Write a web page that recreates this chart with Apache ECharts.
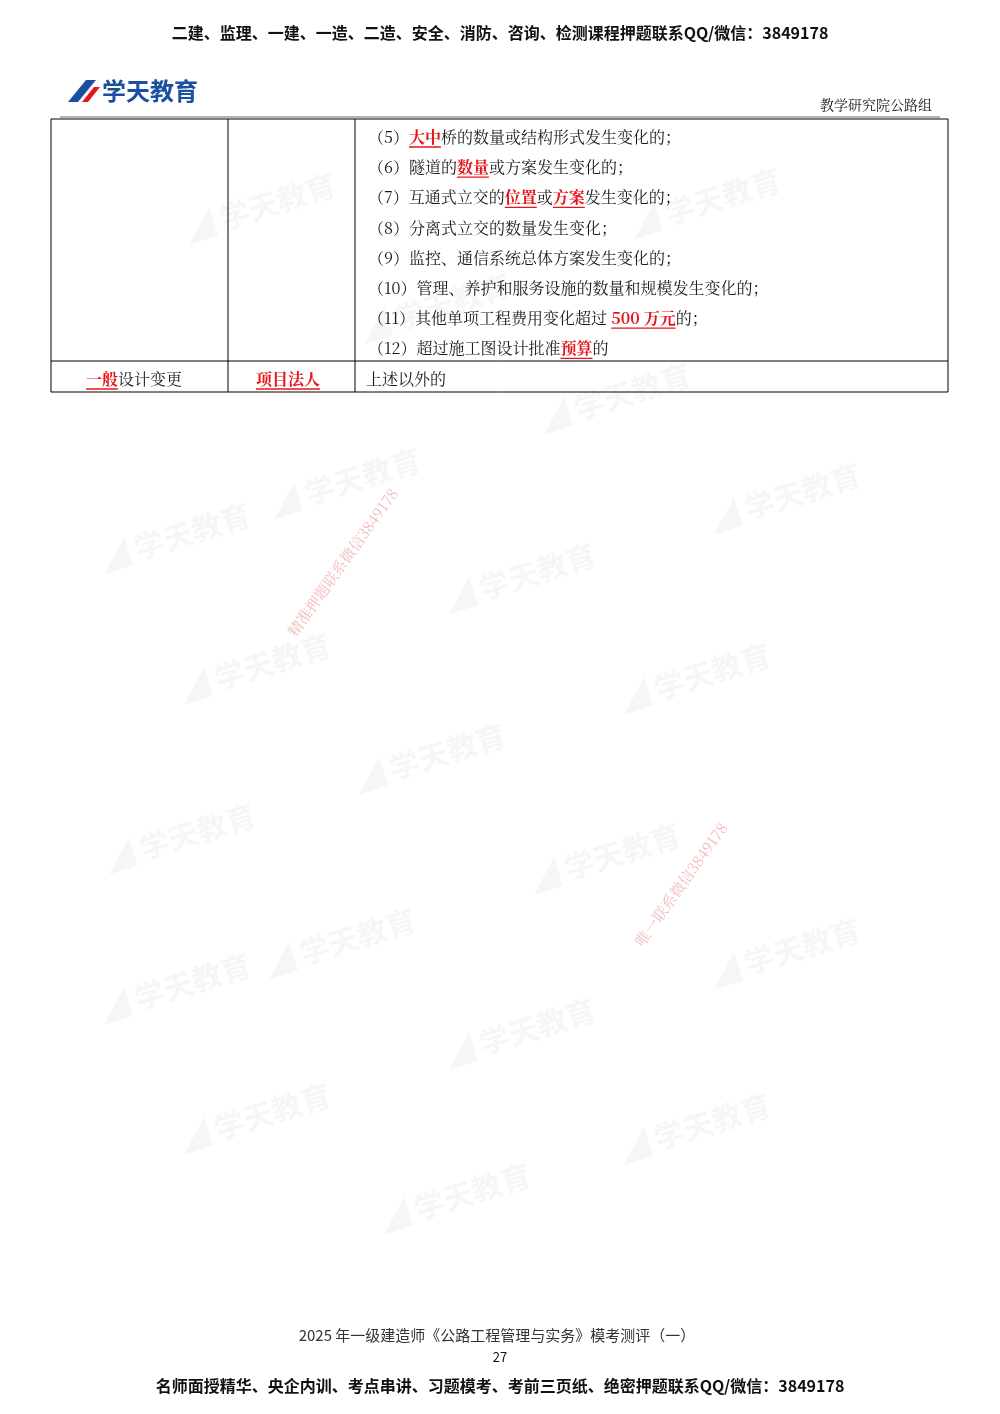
<!DOCTYPE html>
<html><head><meta charset="utf-8">
<script src="https://cdn.jsdelivr.net/npm/echarts@6/dist/echarts.min.js"></script>
<style>html,body{margin:0;padding:0;background:#fff}#c{width:1000px;height:1414px}</style>
</head><body><div id="c"></div>
<script>
const headerText = "二建、监理、一建、一造、二造、安全、消防、咨询、检测课程押题联系QQ/微信：3849178";
const footerText = "名师面授精华、央企内训、考点串讲、习题模考、考前三页纸、绝密押题联系QQ/微信：3849178";
const deptText = "教学研究院公路组";
const pageTitle = "2025 年一级建造师《公路工程管理与实务》模考测评（一）";
const pageNum = "27";
// each row: segments [text, highlighted(1)/normal(0)]
const rows = [
  [["（5）",0],["大中",1],["桥的数量或结构形式发生变化的；",0]],
  [["（6）隧道的",0],["数量",1],["或方案发生变化的；",0]],
  [["（7）互通式立交的",0],["位置",1],["或",0],["方案",1],["发生变化的；",0]],
  [["（8）分离式立交的数量发生变化；",0]],
  [["（9）监控、通信系统总体方案发生变化的；",0]],
  [["（10）管理、养护和服务设施的数量和规模发生变化的；",0]],
  [["（11）其他单项工程费用变化超过 ",0],["500 万元",1],["的；",0]],
  [["（12）超过施工图设计批准",0],["预算",1],["的",0]]
];
const lastRow = [[["一般",1],["设计变更",0]], [["项目法人",1]], [["上述以外的",0]]];
const watermarks = [[185,230],[630,225],[360,330],[540,420],[270,505],[710,520],[445,600],[180,690],[620,700],[355,780],[105,860],[530,880],[265,965],[710,975],[445,1055],[180,1140],[620,1150],[380,1220],[100,560],[100,1010]];

const chart = echarts.init(document.getElementById('c'));
const ctx = document.createElement('canvas').getContext('2d');
const FONT = '"Noto Serif CJK SC","Noto Sans CJK SC",serif';
function w(t, bold){ctx.font=(bold?'bold ':'')+'16px '+FONT;return ctx.measureText(t).width;}
const g = [];
function txt(x,y,t,o){g.push({type:'text',x:x,y:y,style:Object.assign({text:t,fill:'#111',font:'16px '+FONT,textVerticalAlign:'middle'},o||{}),z:5});}
function line(x1,y1,x2,y2,c,lw){g.push({type:'line',shape:{x1,y1,x2,y2},style:{stroke:c||'#000',lineWidth:lw||1},z:6});}
function segs(x,y,list){
  list.forEach(([t,h])=>{
    const ww=w(t,h);
    txt(x,y,t,{fill:h?'#e8141b':'#1a1a1a',font:(h?'bold ':'')+'16px '+FONT});
    if(h) line(x,y+10,x+ww,y+10,'#e8141b',1.3);
    x+=ww;
  });
}
watermarks.forEach(([x,y])=>{
  g.push({type:'text',x:x,y:y,rotation:0.3,style:{text:'◢ 学天教育',fill:'rgba(150,150,150,0.09)',font:'bold 30px "Noto Sans CJK SC"',textVerticalAlign:'middle'},z:1});
});
g.push({type:'text',x:285,y:630,rotation:0.95,style:{text:'精准押题联系微信3849178',fill:'rgba(220,80,80,0.4)',font:'15px '+FONT},z:1});
g.push({type:'text',x:632,y:940,rotation:0.95,style:{text:'唯一联系微信3849178',fill:'rgba(220,80,80,0.4)',font:'15px '+FONT},z:1});
g.push({type:'text',x:500,y:33,style:{text:headerText,fill:'#111',font:'bold 16px "Noto Sans CJK SC"',textAlign:'center',textVerticalAlign:'middle'},z:5});
g.push({type:'polygon',shape:{points:[[68,102],[86,80],[96,80],[78,102]]},style:{fill:'#1b4fa0'},z:5});
g.push({type:'polygon',shape:{points:[[82,102],[94,87],[100,87],[88,102]]},style:{fill:'#e8141b'},z:5});
g.push({type:'text',x:102,y:91,style:{text:'学天教育',fill:'#1b4fa0',font:'bold 24px "Noto Sans CJK SC"',textVerticalAlign:'middle'},z:5});
g.push({type:'text',x:932,y:105,style:{text:deptText,fill:'#222',font:'14px '+FONT,textAlign:'right',textVerticalAlign:'middle'},z:5});
line(60,117,940,117,'#444',0.8);
line(51,119,948,119); line(51,361,948,361); line(51,392,948,392);
[51,228,355,948].forEach(x=>line(x,119,x,392));
rows.forEach((r,i)=>segs(368,137+i*30.2,r));
segs(86,379,lastRow[0]);
segs(256,379,lastRow[1]);
segs(366,379,lastRow[2]);
g.push({type:'text',x:497,y:1335,style:{text:pageTitle,fill:'#333',font:'15px "Noto Sans CJK SC"',textAlign:'center',textVerticalAlign:'middle'},z:5});
g.push({type:'text',x:500,y:1357,style:{text:pageNum,fill:'#111',font:'13px "Noto Sans CJK SC"',textAlign:'center',textVerticalAlign:'middle'},z:5});
g.push({type:'text',x:500,y:1386,style:{text:footerText,fill:'#111',font:'bold 16px "Noto Sans CJK SC"',textAlign:'center',textVerticalAlign:'middle'},z:5});
chart.setOption({animation:false,backgroundColor:'#fff',graphic:g});
</script></body></html>
